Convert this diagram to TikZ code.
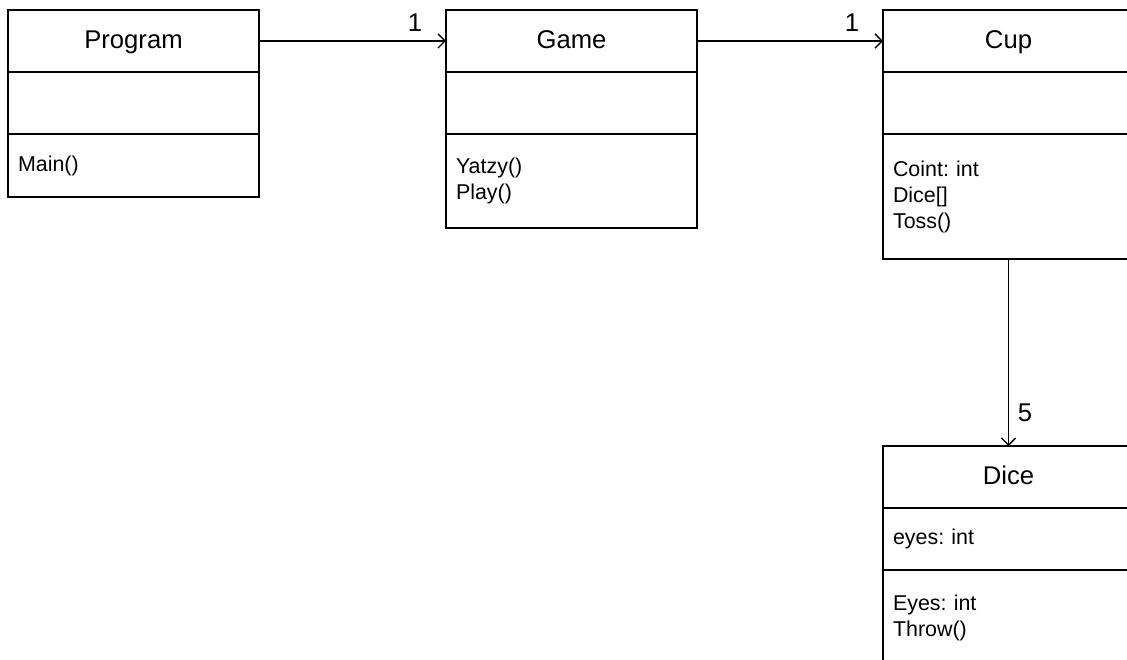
\documentclass[tikz,border=0pt]{standalone}
\usepackage{fontspec}
\setmainfont{Liberation Sans}
\usetikzlibrary{arrows.meta, positioning}
\frenchspacing

\tikzset{
  classhead/.style={draw, line width=0.8pt, outer sep=0pt, minimum width=5.02cm, minimum height=1.24cm, text height=10pt, text depth=2pt, font=\fontsize{14.6}{17}\selectfont},
  classpart/.style={draw, line width=0.8pt, outer sep=0pt, text width=4.62cm, inner xsep=0.2cm, inner ysep=0pt, align=left, font=\fontsize{12.2}{14.8}\selectfont},
  assoc/.style={-{Straight Barb[length=4pt,width=8pt]}, line width=0.8pt},
  mult/.style={font=\fontsize{14.6}{17}\selectfont, inner sep=0pt}
}

\begin{document}
\begin{tikzpicture}
        \useasboundingbox (0,0) rectangle (22.54,-13.2);
        \clip (0,0) rectangle (22.54,-13.2);

        % Program class
        \node[classhead] (program) at (2.67,-0.82) {Program};
        \node[classpart, minimum height=1.24cm, below=0cm of program] (programattr) {};
        \node[classpart, minimum height=1.26cm, below=0cm of programattr] (programops) {Main()};

        % Game class
        \node[classhead] (game) at (11.43,-0.82) {Game};
        \node[classpart, minimum height=1.24cm, below=0cm of game] (gameattr) {};
        \node[classpart, minimum height=1.88cm, below=0cm of gameattr] (gameops) {Yatzy()\\Play()};

        % Cup class
        \node[classhead] (cup) at (20.17,-0.82) {Cup};
        \node[classpart, minimum height=1.24cm, below=0cm of cup] (cupattr) {};
        \node[classpart, minimum height=2.5cm, below=0cm of cupattr] (cupops) {Coint: int\\Dice[]\\Toss()};

        % Dice class
        \node[classhead, below=3.74cm of cupops] (dice) {Dice};
        \node[classpart, minimum height=1.24cm, below=0cm of dice] (diceattr) {eyes: int};
        \node[classpart, minimum height=1.9cm, below=0cm of diceattr] (diceops) {Eyes: int\\Throw()};

        % Associations
        \draw[assoc] (program) -- node[mult, pos=1, xshift=-0.62cm, yshift=0.36cm] (progmult) {1} (game);
        \draw[assoc] (game) -- node[mult, pos=1, xshift=-0.62cm, yshift=0.36cm] (gamemult) {1} (cup);
        \draw[assoc] (cupops) -- node[mult, pos=1, xshift=0.33cm, yshift=0.66cm] (cupmult) {5} (dice);
\end{tikzpicture}
\end{document}
